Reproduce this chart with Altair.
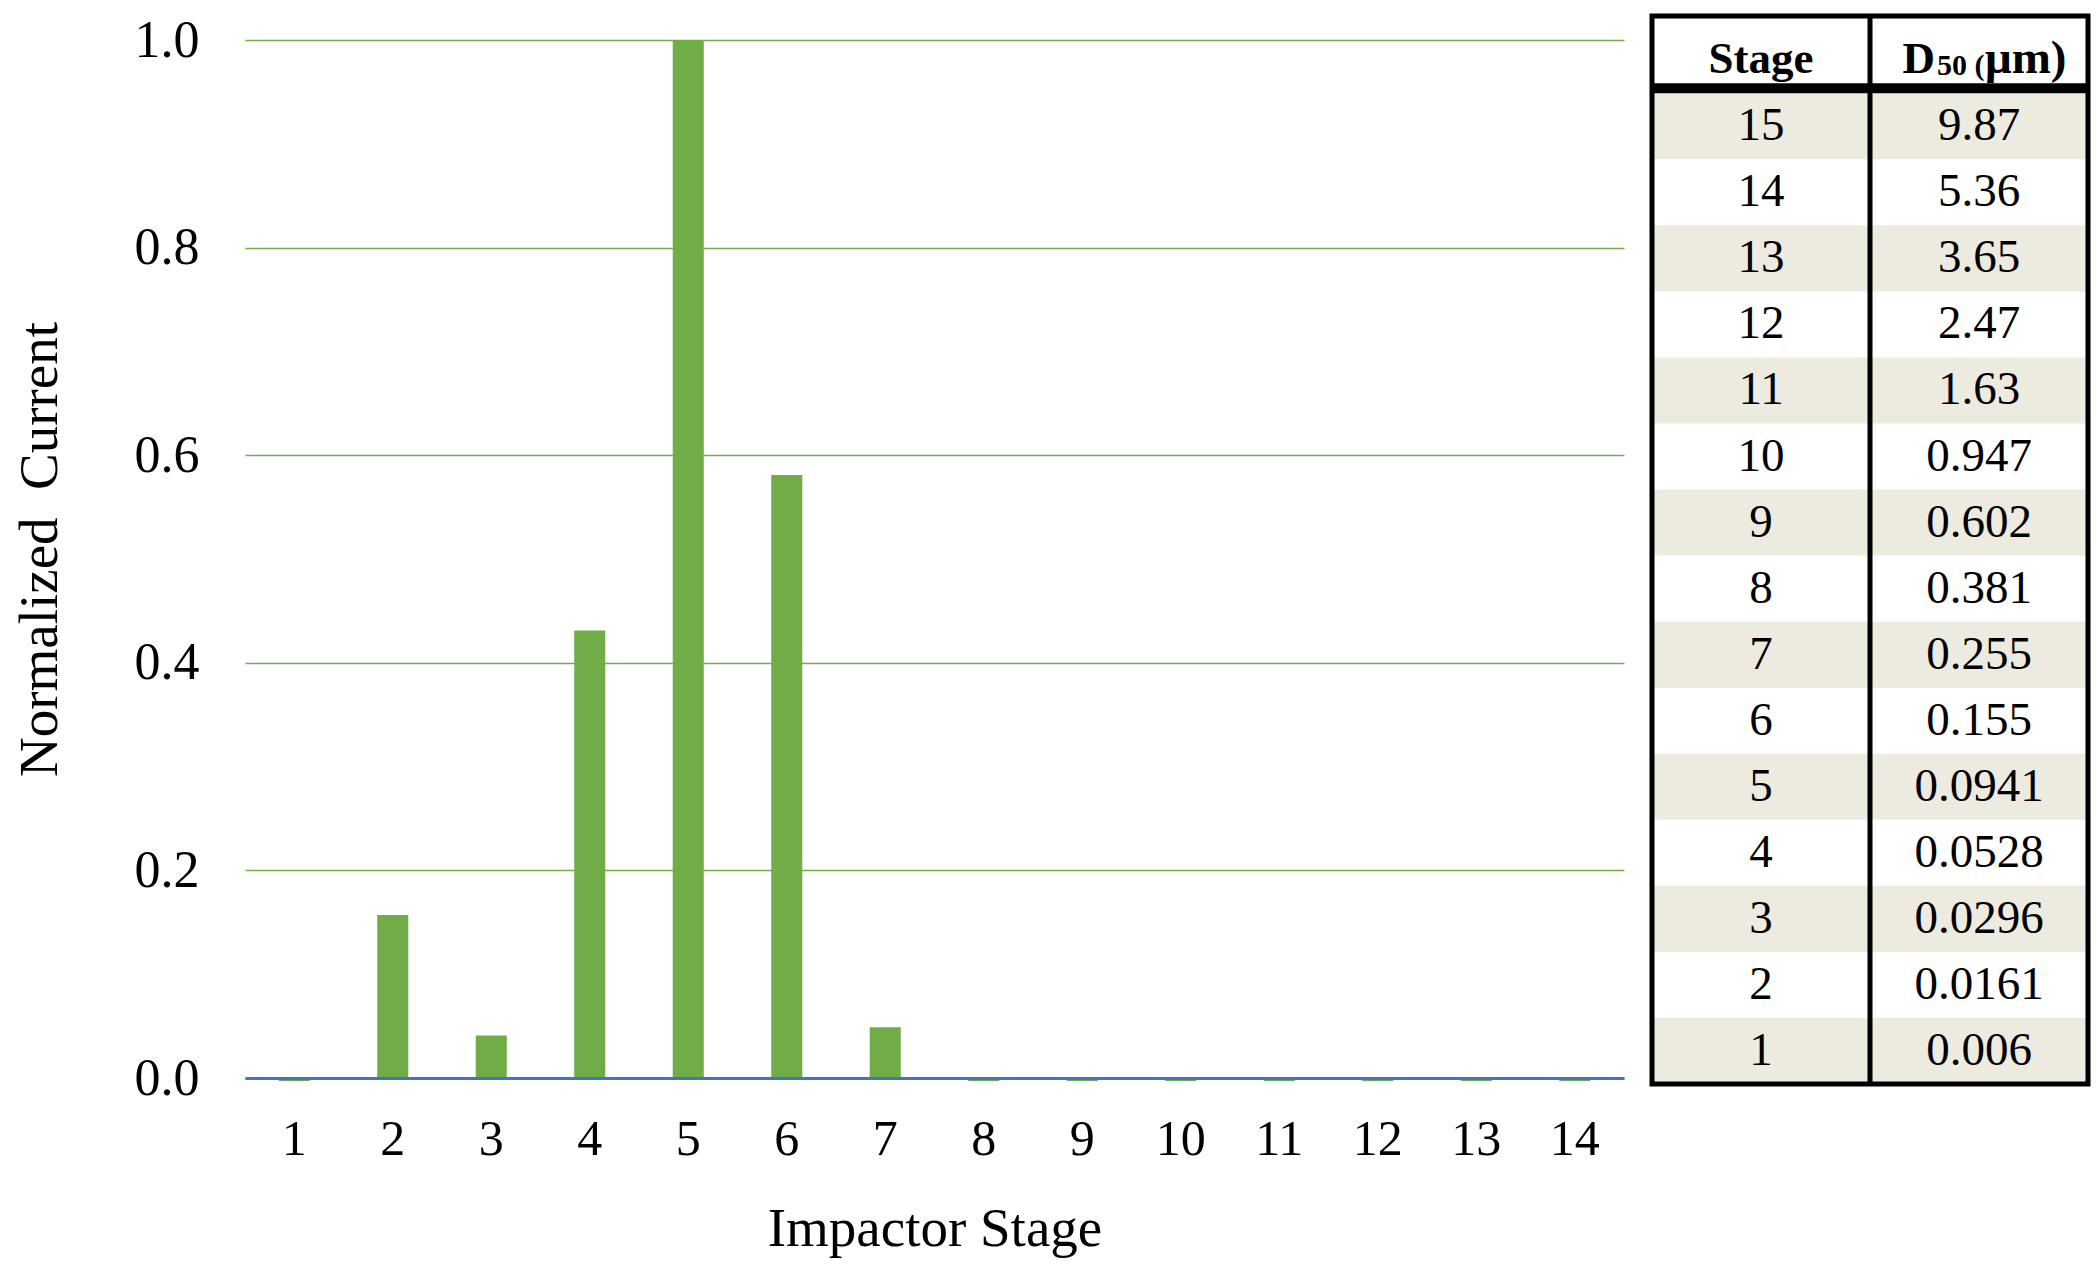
import altair as alt
import pandas as pd

# ---- data ----
stages = [str(i) for i in range(1, 15)]
current = [-0.003, 0.157, 0.041, 0.431, 1.0, 0.581, 0.049,
           -0.003, -0.003, -0.003, -0.003, -0.003, -0.003, -0.003]

table_stage = ["15", "14", "13", "12", "11", "10", "9", "8", "7", "6", "5", "4", "3", "2", "1"]
table_d50 = ["9.87", "5.36", "3.65", "2.47", "1.63", "0.947", "0.602", "0.381",
             "0.255", "0.155", "0.0941", "0.0528", "0.0296", "0.0161", "0.006"]
y_ticks = [0.0, 0.2, 0.4, 0.6, 0.8, 1.0]

FONT = "Liberation Serif"
GREEN = "#70AD47"
BLUE = "#4472C4"
BEIGE = "#EDEBE0"

TOTAL_H = 1252
TOP = 32            # plot top at page y 40
W, H = 1379, 1038   # plot bottom at page y 1078
OY = 8 + TOP        # page y of the view origin

bars_df = pd.DataFrame({"stage": stages, "value": current})

bars = alt.Chart(bars_df).mark_bar(color=GREEN).encode(
    x=alt.X("stage:O", sort=stages,
            scale=alt.Scale(paddingInner=0.685, paddingOuter=0.3425),
            axis=alt.Axis(title="Impactor Stage", labelAngle=0, ticks=False,
                          domain=True, domainColor=BLUE, domainWidth=3,
                          labelFont=FONT, labelFontSize=50, labelColor="black",
                          labelBaseline="middle", labelPadding=61,
                          titleFont=FONT, titleFontSize=55, titleFontWeight="normal",
                          titleColor="black", titleBaseline="middle",
                          titleX=W / 2, titleY=150, grid=False, zindex=2)),
    y=alt.Y("value:Q", scale=alt.Scale(domain=[0, 1], nice=False, zero=False),
            axis=alt.Axis(title="Normalized\u00a0 Current", values=y_ticks, format=".1f",
                          ticks=False, domain=False, grid=True, gridColor=GREEN,
                          gridWidth=1.6, labelFont=FONT, labelFontSize=52,
                          labelColor="black", labelPadding=46,
                          titleFont=FONT, titleFontSize=55, titleFontWeight="normal",
                          titleColor="black", titleAngle=270, titleBaseline="middle",
                          titleAlign="center", titleX=-206, titleY=H / 2 - 10)),
)

# ---- table ----
HDR = 1.17
rows = pd.DataFrame({
    "stage": table_stage,
    "d50": table_d50,
    "r": list(range(15)),
})
rows["r2"] = rows["r"] + 1
rows["rc"] = rows["r"] + 0.5
rows["shade"] = [i % 2 == 0 for i in range(15)]

# table spans page y 16..1084, page x 1652..2088 (view origin at page x 245)
tx = alt.Scale(domain=[0, 2], range=[1407, 1843])
ty = alt.Scale(domain=[-HDR, 15], range=[16 - OY, 1084 - OY], nice=False, zero=False)

base_rows = alt.Chart(rows)

shade = base_rows.transform_filter("datum.shade").mark_rect(color=BEIGE).encode(
    x=alt.X("x0:Q", scale=tx, axis=None), x2="x1:Q",
    y=alt.Y("r:Q", scale=ty, axis=None), y2="r2:Q",
).transform_calculate(x0="0", x1="2")

stage_txt = base_rows.mark_text(font=FONT, fontSize=47, color="black", baseline="middle").encode(
    x=alt.X("cx:Q", scale=tx, axis=None),
    y=alt.Y("rc:Q", scale=ty, axis=None),
    text="stage:N",
).transform_calculate(cx="0.5")

d50_txt = base_rows.mark_text(font=FONT, fontSize=47, color="black", baseline="middle").encode(
    x=alt.X("cx:Q", scale=tx, axis=None),
    y=alt.Y("rc:Q", scale=ty, axis=None),
    text="d50:N",
).transform_calculate(cx="1.5")

frame_df = pd.DataFrame({"x0": [0], "x1": [2], "y0": [-HDR], "y1": [15]})
frame = alt.Chart(frame_df).mark_rect(fill=None, stroke="black", strokeWidth=5).encode(
    x=alt.X("x0:Q", scale=tx, axis=None), x2="x1:Q",
    y=alt.Y("y0:Q", scale=ty, axis=None), y2="y1:Q",
)

hline_df = pd.DataFrame({"x0": [0], "x1": [2], "y0": [-0.15], "y1": [0]})
hline = alt.Chart(hline_df).mark_rect(color="black").encode(
    x=alt.X("x0:Q", scale=tx, axis=None), x2="x1:Q",
    y=alt.Y("y0:Q", scale=ty, axis=None), y2="y1:Q",
)

vline_df = pd.DataFrame({"x": [1], "y0": [-HDR], "y1": [15]})
vline = alt.Chart(vline_df).mark_rule(color="black", strokeWidth=5).encode(
    x=alt.X("x:Q", scale=tx, axis=None),
    y=alt.Y("y0:Q", scale=ty, axis=None), y2="y1:Q",
)

hdr_df = pd.DataFrame({"cx": [0.5, 1.5, 1.5, 1.5],
                       "y": [-0.3, -0.3, -0.3, -0.3],
                       "t": ["Stage", "D", "50 (", "\u03bcm)"],
                       "part": ["stage", "d", "sub", "um"]})

def hdr_text(part, **kw):
    return alt.Chart(hdr_df).transform_filter(f"datum.part == '{part}'").mark_text(
        font=FONT, fontWeight="bold", color="black", baseline="alphabetic", **kw
    ).encode(
        x=alt.X("cx:Q", scale=tx, axis=None),
        y=alt.Y("y:Q", scale=ty, axis=None),
        text="t:N",
    )

h_stage = hdr_text("stage", fontSize=45, align="center")
h_d = hdr_text("d", fontSize=45, align="right", dx=-44)
h_sub = hdr_text("sub", fontSize=30, align="left", dx=-42, dy=2)
h_um = hdr_text("um", fontSize=47, align="left", dx=6)

table = alt.layer(shade, frame, hline, vline, stage_txt, d50_txt, h_stage, h_d, h_sub, h_um)

chart = alt.layer(bars, table).resolve_scale(x="independent", y="independent").properties(
    width=W, height=H,
    autosize=alt.AutoSizeParams(type="none"),
    padding={"left": 237, "top": TOP, "right": 467, "bottom": TOTAL_H - TOP - H},
).configure_view(stroke=None)

chart.save("out.html", embed_options={"renderer": "svg", "actions": False})
